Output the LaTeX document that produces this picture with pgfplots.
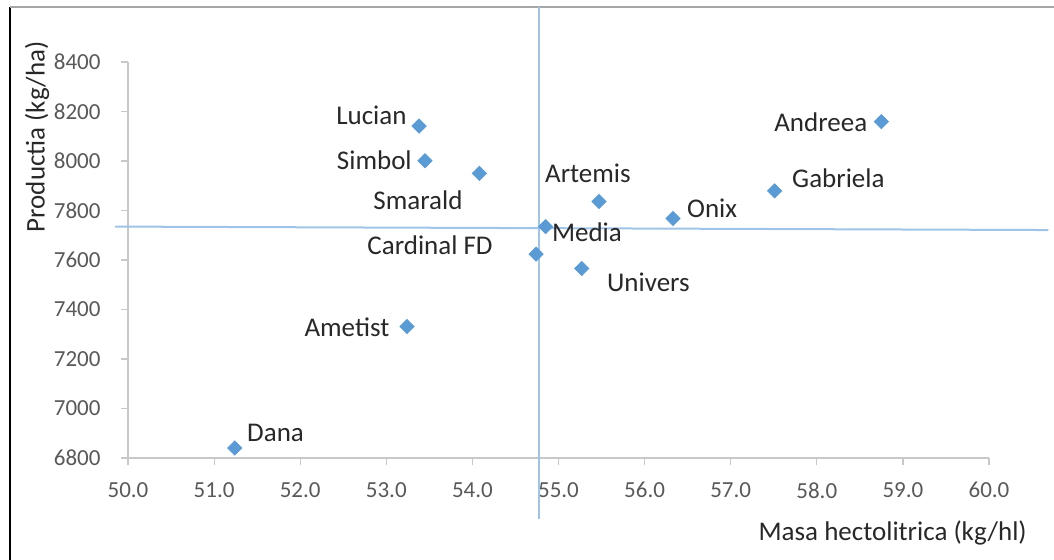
\documentclass[border=0pt]{standalone}
\usepackage{pgfplots}
\pgfplotsset{compat=1.18}
\usepackage{fontspec}
\setmainfont{Carlito}
\definecolor{mk}{RGB}{91,155,213}
\definecolor{ln}{RGB}{160,196,232}
\definecolor{ax}{RGB}{200,200,200}
\definecolor{tk}{RGB}{89,89,89}
\definecolor{lb}{RGB}{40,40,40}
\begin{document}
\begin{tikzpicture}
\path[use as bounding box] (0,0) rectangle (527pt,280pt);
\draw[black,line width=1.2pt] (5pt,0) -- (5pt,276.5pt);
\draw[gray!70,line width=0.8pt] (5pt,276.5pt) -- (527pt,276.5pt);
\begin{axis}[
  at={(64pt,51pt)}, anchor=south west,
  scale only axis, width=430.5pt, height=198pt,
  xmin=50, xmax=60, ymin=6800, ymax=8400,
  axis lines=left, axis line style={-, ax, line width=0.8pt},
  xtick={50,51,...,60}, ytick={6800,7000,...,8400},
  xticklabels={50.0,51.0,52.0,53.0,54.0,55.0,56.0,57.0,58.0,59.0,60.0},
  yticklabels={6800,7000,7200,7400,7600,7800,8000,8200,8400},
  tick align=outside, major tick length=3.5pt,
  tick style={ax, line width=0.6pt},
  x tick label style={font=\fontsize{11.5}{14}\selectfont, text=tk, yshift=-5.2pt},
  y tick label style={font=\fontsize{11.5}{14}\selectfont, text=tk, anchor=east, xshift=-6.7pt},
  clip=false,
  xlabel={Masa hectolitrica (kg/hl)},
  ylabel={Productia (kg/ha)},
  xlabel style={at={(axis description cs:1.052,-0.19)}, anchor=east, font=\fontsize{13.5}{16}\selectfont, text=lb},
  ylabel style={at={(axis description cs:-0.1057,0.811)}, anchor=center, rotate=0, font=\fontsize{13.5}{16}\selectfont, text=lb},
]
\addplot[ln, line width=1pt, forget plot] coordinates {(49.85,7735) (60.69,7721)};
\addplot[ln, line width=1pt, forget plot] coordinates {(54.77,8622) (54.77,6554)};
\addplot[only marks, mark=square*, mark size=2.5pt, mark options={fill=mk, draw=mk, rotate=45}] coordinates {
(53.38,8141) (53.45,8001) (54.08,7950) (55.47,7836) (54.85,7735) (54.74,7624)
(55.27,7566) (56.33,7768) (57.51,7879) (58.75,8159) (53.24,7331) (51.24,6840)};
\tikzset{dl/.style={font=\fontsize{13.5}{16}\selectfont, text=lb, inner sep=0pt}}
\node[dl,anchor=east] at (axis cs:53.24,8186) {Lucian};
\node[dl,anchor=east] at (axis cs:53.30,8004) {Simbol};
\node[dl,anchor=east] at (axis cs:53.89,7842) {Smarald};
\node[dl,anchor=west] at (axis cs:54.84,7952) {Artemis};
\node[dl,anchor=west] at (axis cs:54.92,7713) {Media};
\node[dl,anchor=east] at (axis cs:54.24,7661) {Cardinal FD};
\node[dl,anchor=west] at (axis cs:55.56,7511) {Univers};
\node[dl,anchor=west] at (axis cs:56.49,7810) {Onix};
\node[dl,anchor=west] at (axis cs:57.71,7931) {Gabriela};
\node[dl,anchor=east] at (axis cs:58.59,8158) {Andreea};
\node[dl,anchor=east] at (axis cs:53.04,7329) {Ametist};
\node[dl,anchor=west] at (axis cs:51.38,6901) {Dana};
\end{axis}
\end{tikzpicture}
\end{document}
